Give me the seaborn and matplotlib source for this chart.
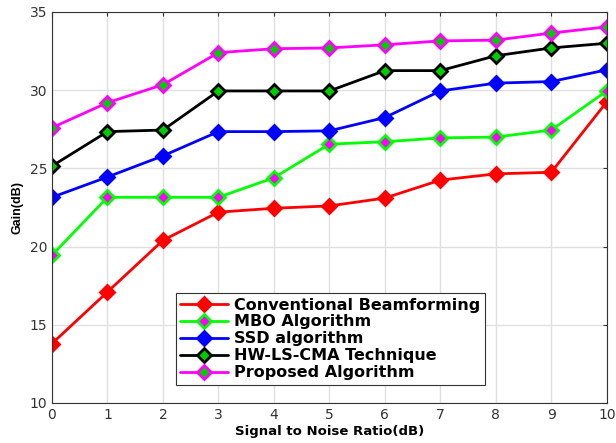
import numpy as np
import pandas as pd
import matplotlib
matplotlib.use("Agg")
import matplotlib.pyplot as plt
import seaborn as sns

snr = [0, 1, 2, 3, 4, 5, 6, 7, 8, 9, 10]
conventional = [13.8, 17.1, 20.4, 22.2, 22.45, 22.6, 23.1, 24.25, 24.65, 24.75, 29.25]
mbo = [19.45, 23.15, 23.15, 23.15, 24.4, 26.55, 26.7, 26.95, 27.0, 27.45, 29.95]
ssd = [23.15, 24.45, 25.8, 27.35, 27.35, 27.4, 28.25, 29.95, 30.45, 30.55, 31.3]
hwls = [25.15, 27.35, 27.45, 29.95, 29.95, 29.95, 31.25, 31.25, 32.2, 32.7, 33.0]
proposed = [27.6, 29.2, 30.35, 32.4, 32.65, 32.7, 32.9, 33.15, 33.2, 33.65, 34.05]

labels = ["Conventional Beamforming", "MBO Algorithm", "SSD algorithm",
          "HW-LS-CMA Technique", "Proposed Algorithm"]
series = [conventional, mbo, ssd, hwls, proposed]
line_colors = ["#ff0000", "#00ff00", "#0000ff", "#000000", "#ff00ff"]
face_colors = ["#ff0000", "#ff00ff", "#0000ff", "#00cc00", "#00cc00"]
edge_colors = ["#ff0000", "#00ff00", "#0000ff", "#000000", "#ff00ff"]

sns.set_style("white")
plt.rcParams['font.family'] = ['DejaVu Sans']
plt.rcParams['text.color'] = 'black'

fig = plt.figure(figsize=(6.16, 4.43), dpi=100)
ax = fig.add_axes([0.0844, 0.0903, 0.9006, 0.8827])

for lab, vals, lc, fc, ec in zip(labels, series, line_colors, face_colors, edge_colors):
    df = pd.DataFrame({"snr": snr, "gain": vals})
    sns.lineplot(data=df, x="snr", y="gain", ax=ax, color=lc, linewidth=2,
                 marker="D", markersize=7.5, markerfacecolor=fc,
                 markeredgecolor=ec, markeredgewidth=2, label=lab)

ax.set_xlim(0, 10)
ax.set_ylim(10, 35)
ax.set_xticks(range(0, 11))
ax.set_yticks([10, 15, 20, 25, 30, 35])
ax.grid(True, color="#e0e0e0", linewidth=1)
ax.set_axisbelow(True)
for sp in ax.spines.values():
    sp.set_color("#333333")
    sp.set_linewidth(0.8)
ax.tick_params(axis="both", labelsize=10, colors="#333333", direction="in",
               length=3, right=True, top=True)
ax.set_xlabel("Signal to Noise Ratio(dB)", fontsize=9.5, fontweight="bold",
              labelpad=2, color="black")
ax.set_ylabel("Gain(dB)", fontsize=9, fontweight="bold", labelpad=4,
              family=["Liberation Sans", "DejaVu Sans"], color="black")

leg = ax.legend(loc="lower left", bbox_to_anchor=(0.223, 0.046), frameon=True,
                fancybox=False, edgecolor="#333333", framealpha=1,
                prop={"weight": "bold", "size": 11.5}, handlelength=3.0,
                borderpad=0.3, labelspacing=0.12, handletextpad=0.35,
                borderaxespad=0)
for t in leg.get_texts():
    t.set_color("black")
leg.get_frame().set_linewidth(0.8)

fig.savefig("out.png", dpi=100)
